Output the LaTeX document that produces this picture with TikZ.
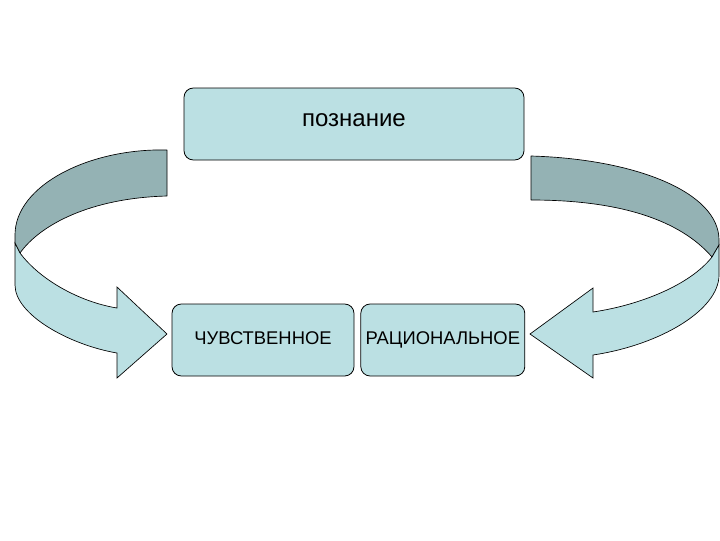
\documentclass[tikz,border=0pt]{standalone}
\usepackage{fontspec}
\setmainfont{Liberation Sans}
\usepackage{xcolor}
\definecolor{cFill}{HTML}{BBE0E3}
\definecolor{cBack}{HTML}{94B2B4}
\usetikzlibrary{positioning}
\tikzset{
  node-box/.style={draw=black,line width=0.6pt,rounded corners=7pt,fill=cFill,
    minimum height=54pt,inner sep=1pt,align=center,text height=0.72em,text depth=0pt,
    font=\fontsize{13.8}{16}\selectfont},
  band-back/.style={draw=black,line width=0.5pt,fill=cBack,line join=round},
  band-front/.style={draw=black,line width=0.5pt,fill=cFill,line join=miter},
}
\begin{document}
\begin{tikzpicture}[x=0.75pt,y=-0.75pt]
  \useasboundingbox (0,0) rectangle (720,540);
  \node[node-box,minimum width=255pt,text height=0.42em,font=\fontsize{18}{21}\selectfont] (know) at (354,124) {познание};
  \node[node-box,minimum width=136.5pt] (sense) at (263,340) {ЧУВСТВЕННОЕ};
  \node[node-box,minimum width=123pt,right=4.5pt of sense] (reason) {РАЦИОНАЛЬНОЕ};
  % left curved arrow
  \draw[band-back] (167,150) .. controls (90,148) and (15,185) .. (15,235)
    -- (15,243) -- (20,253) .. controls (40,225) and (90,198) .. (167,196) -- cycle;
  \draw[band-front] (20,253) .. controls (40,280) and (80,302) .. (117,308)
    -- (117,287) -- (167,334) -- (117,378) -- (117,353)
    .. controls (70,345) and (15,315) .. (15,285) -- (15,243) -- cycle;
  % right curved arrow
  \draw[band-back] (531,156) .. controls (635,159) and (719,192) .. (719,240)
    -- (719,245) -- (712,257) .. controls (680,220) and (620,200) .. (531,200) -- cycle;
  \draw[band-front] (712,257) .. controls (690,285) and (640,305) .. (593,312)
    -- (593,288) -- (530,334) -- (593,378) -- (593,355)
    .. controls (660,345) and (719,310) .. (719,275) -- (719,245) -- cycle;
\end{tikzpicture}
\end{document}
